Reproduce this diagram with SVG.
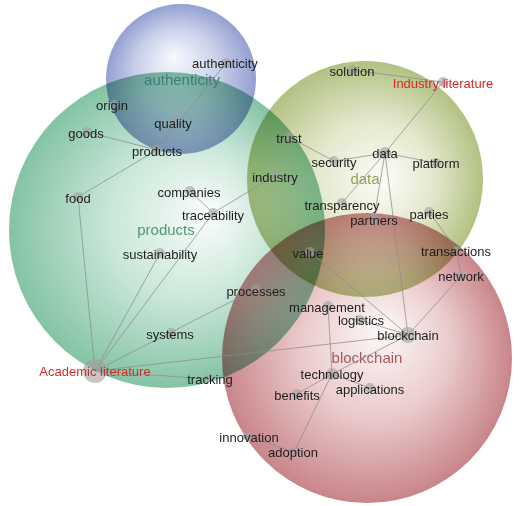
<svg xmlns="http://www.w3.org/2000/svg" width="520" height="506" viewBox="0 0 520 506">
<style>
.cl{mix-blend-mode:multiply}
.e{stroke:#8c8c8c;stroke-width:1;stroke-opacity:0.75;fill:none}
.d{fill:#a0a0a0;fill-opacity:0.6}
.t{font-family:"Liberation Sans",Arial,sans-serif;font-size:13px;fill:#1e1e1e;text-anchor:middle}
.r{fill:#d42a2a}
.c{font-family:"Liberation Sans",Arial,sans-serif;font-size:15px;text-anchor:middle}
</style>
<defs>
<radialGradient id="gA" cx="0.5" cy="0.5" r="0.5" fx="0.45" fy="0.35">
<stop offset="0" stop-color="#f8f9fd"/><stop offset="0.55" stop-color="#c9d0ea"/><stop offset="1" stop-color="#93a0d1"/>
</radialGradient>
<radialGradient id="gP" cx="0.5" cy="0.5" r="0.5" fx="0.64" fy="0.45">
<stop offset="0" stop-color="#fbfdfc"/><stop offset="0.5" stop-color="#cae7d9"/><stop offset="1" stop-color="#84c3a4"/>
</radialGradient>
<radialGradient id="gD" cx="0.5" cy="0.5" r="0.5" fx="0.58" fy="0.5">
<stop offset="0" stop-color="#fcfdf8"/><stop offset="0.5" stop-color="#e3e8cd"/><stop offset="1" stop-color="#b3c182"/>
</radialGradient>
<radialGradient id="gB" cx="0.5" cy="0.5" r="0.5" fx="0.56" fy="0.4">
<stop offset="0" stop-color="#fdf9f9"/><stop offset="0.5" stop-color="#ebcccd"/><stop offset="1" stop-color="#c98589"/>
</radialGradient>
</defs>
<g id="clusters">
<circle id="cl-products" class="cl" cx="167" cy="230" r="158" fill="url(#gP)"/>
<circle id="cl-data" class="cl" cx="365" cy="179" r="118" fill="url(#gD)"/>
<circle id="cl-blockchain" class="cl" cx="367" cy="358" r="145" fill="url(#gB)"/>
<circle id="cl-authenticity" class="cl" cx="181" cy="79" r="75" fill="url(#gA)"/>
</g>
<g id="cluster-labels">
<text class="c" x="182" y="85" fill="#3e7c80">authenticity</text>
<text class="c" x="166" y="235" fill="#4a9a78">products</text>
<text class="c" x="365" y="184" fill="#98a05e">data</text>
<text class="c" x="367" y="363" fill="#a65a5c">blockchain</text>
</g>
<g id="connectors">
<line class="e" x1="226" y1="63" x2="157" y2="150"/>
<line class="e" x1="174" y1="122" x2="157" y2="150"/>
<line class="e" x1="114" y1="104" x2="157" y2="150"/>
<line class="e" x1="87" y1="132" x2="157" y2="150"/>
<line class="e" x1="157" y1="150" x2="78" y2="197"/>
<line class="e" x1="78" y1="197" x2="95" y2="371"/>
<line class="e" x1="190" y1="191" x2="213" y2="213"/>
<line class="e" x1="213" y1="213" x2="276" y2="175"/>
<line class="e" x1="213" y1="213" x2="95" y2="371"/>
<line class="e" x1="160" y1="253" x2="95" y2="371"/>
<line class="e" x1="95" y1="371" x2="256" y2="289"/>
<line class="e" x1="95" y1="371" x2="408" y2="335"/>
<line class="e" x1="95" y1="371" x2="210" y2="379"/>
<line class="e" x1="352" y1="70" x2="443" y2="82"/>
<line class="e" x1="443" y1="82" x2="385" y2="153"/>
<line class="e" x1="289" y1="137" x2="334" y2="161"/>
<line class="e" x1="334" y1="161" x2="385" y2="153"/>
<line class="e" x1="385" y1="153" x2="436" y2="163"/>
<line class="e" x1="385" y1="153" x2="342" y2="203"/>
<line class="e" x1="385" y1="153" x2="374" y2="218"/>
<line class="e" x1="385" y1="153" x2="408" y2="335"/>
<line class="e" x1="429" y1="212" x2="457" y2="250"/>
<line class="e" x1="457" y1="250" x2="461" y2="276"/>
<line class="e" x1="461" y1="276" x2="408" y2="335"/>
<line class="e" x1="310" y1="252" x2="408" y2="335"/>
<line class="e" x1="360" y1="320" x2="408" y2="335"/>
<line class="e" x1="328" y1="306" x2="332" y2="374"/>
<line class="e" x1="332" y1="374" x2="408" y2="335"/>
<line class="e" x1="332" y1="374" x2="297" y2="394"/>
<line class="e" x1="332" y1="374" x2="370" y2="388"/>
<line class="e" x1="332" y1="374" x2="294" y2="452"/>
<line class="e" x1="248" y1="436" x2="294" y2="452"/>
</g>
<g id="nodes">
<g id="n-authenticity"><circle class="d" cx="226" cy="63" r="5"/><text class="t" x="225" y="68">authenticity</text></g>
<g id="n-origin"><circle class="d" cx="114" cy="104" r="4"/><text class="t" x="112" y="110">origin</text></g>
<g id="n-quality"><circle class="d" cx="174" cy="122" r="5"/><text class="t" x="173" y="128">quality</text></g>
<g id="n-goods"><circle class="d" cx="87" cy="132" r="5"/><text class="t" x="86" y="138">goods</text></g>
<g id="n-products"><circle class="d" cx="157" cy="150" r="5"/><text class="t" x="157" y="156">products</text></g>
<g id="n-food"><circle class="d" cx="78" cy="197" r="5"/><text class="t" x="78" y="203">food</text></g>
<g id="n-companies"><circle class="d" cx="190" cy="191" r="5"/><text class="t" x="189" y="197">companies</text></g>
<g id="n-traceability"><circle class="d" cx="213" cy="213" r="5"/><text class="t" x="213" y="220">traceability</text></g>
<g id="n-industry"><circle class="d" cx="276" cy="175" r="5"/><text class="t" x="275" y="182">industry</text></g>
<g id="n-sustainability"><circle class="d" cx="160" cy="253" r="5"/><text class="t" x="160" y="259">sustainability</text></g>
<g id="n-value"><circle class="d" cx="310" cy="252" r="5"/><text class="t" x="308" y="258">value</text></g>
<g id="n-processes"><circle class="d" cx="256" cy="289" r="5"/><text class="t" x="256" y="296">processes</text></g>
<g id="n-systems"><circle class="d" cx="171" cy="333" r="5"/><text class="t" x="170" y="339">systems</text></g>
<g id="n-academic"><circle class="d" cx="95" cy="371" r="12"/><text class="t r" x="95" y="376">Academic literature</text></g>
<g id="n-tracking"><circle class="d" cx="210" cy="378" r="4"/><text class="t" x="210" y="384">tracking</text></g>
<g id="n-solution"><circle class="d" cx="352" cy="70" r="5"/><text class="t" x="352" y="76">solution</text></g>
<g id="n-industrylit"><circle class="d" cx="443" cy="82" r="5"/><text class="t r" x="443" y="88">Industry literature</text></g>
<g id="n-trust"><circle class="d" cx="289" cy="137" r="5"/><text class="t" x="289" y="143">trust</text></g>
<g id="n-security"><circle class="d" cx="334" cy="161" r="5"/><text class="t" x="334" y="167">security</text></g>
<g id="n-data"><circle class="d" cx="385" cy="153" r="6"/><text class="t" x="385" y="158">data</text></g>
<g id="n-platform"><circle class="d" cx="436" cy="163" r="5"/><text class="t" x="436" y="168">platform</text></g>
<g id="n-transparency"><circle class="d" cx="342" cy="203" r="5"/><text class="t" x="342" y="210">transparency</text></g>
<g id="n-partners"><circle class="d" cx="374" cy="218" r="5"/><text class="t" x="374" y="225">partners</text></g>
<g id="n-parties"><circle class="d" cx="429" cy="212" r="5"/><text class="t" x="429" y="219">parties</text></g>
<g id="n-transactions"><circle class="d" cx="457" cy="250" r="4"/><text class="t" x="456" y="256">transactions</text></g>
<g id="n-network"><circle class="d" cx="461" cy="276" r="5"/><text class="t" x="461" y="281">network</text></g>
<g id="n-management"><circle class="d" cx="328" cy="306" r="5"/><text class="t" x="327" y="312">management</text></g>
<g id="n-logistics"><circle class="d" cx="360" cy="320" r="5"/><text class="t" x="361" y="325">logistics</text></g>
<g id="n-blockchain"><circle class="d" cx="408" cy="335" r="8"/><text class="t" x="408" y="340">blockchain</text></g>
<g id="n-technology"><circle class="d" cx="332" cy="374" r="6"/><text class="t" x="332" y="379">technology</text></g>
<g id="n-benefits"><circle class="d" cx="297" cy="394" r="5"/><text class="t" x="297" y="400">benefits</text></g>
<g id="n-applications"><circle class="d" cx="370" cy="388" r="5"/><text class="t" x="370" y="394">applications</text></g>
<g id="n-innovation"><circle class="d" cx="248" cy="436" r="5"/><text class="t" x="249" y="442">innovation</text></g>
<g id="n-adoption"><circle class="d" cx="294" cy="452" r="5"/><text class="t" x="293" y="457">adoption</text></g>
</g>
</svg>
